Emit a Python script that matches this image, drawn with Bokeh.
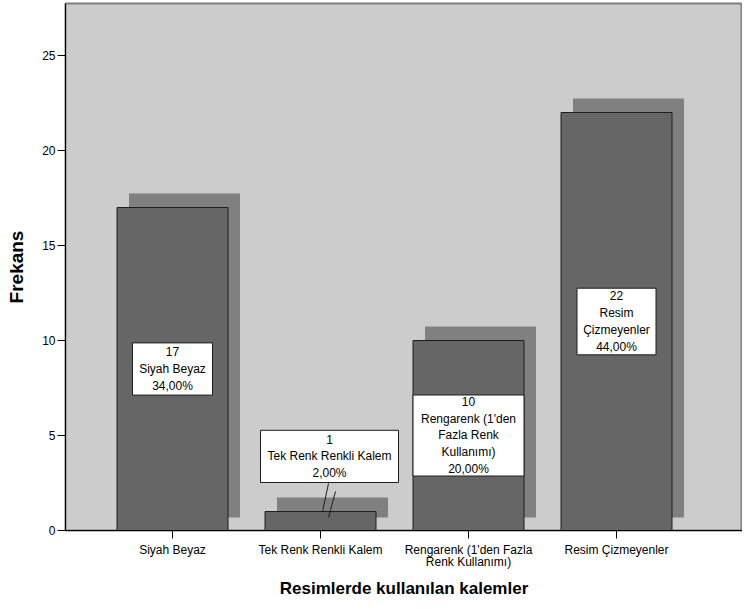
from bokeh.plotting import figure
from bokeh.models import FixedTicker, Range1d
from bokeh.embed import file_html
from bokeh.resources import INLINE
from bokeh.core.properties import value

# ---- data ----
categories = ["Siyah Beyaz", "Tek Renk Renkli Kalem",
              "Rengarenk (1'den Fazla Renk Kullanımı)", "Resim Çizmeyenler"]
tick_labels = ["Siyah Beyaz", "Tek Renk Renkli Kalem",
               "Rengarenk (1'den Fazla\nRenk Kullanımı)", "Resim Çizmeyenler"]
box_names = ["Siyah Beyaz", "Tek Renk Renkli Kalem",
             "Rengarenk (1'den\nFazla Renk\nKullanımı)", "Resim\nÇizmeyenler"]
counts = [17, 1, 10, 22]
percents = ["34,00%", "2,00%", "20,00%", "44,00%"]
y_ticks = [0, 5, 10, 15, 20, 25]

# ---- layout / style ----
W, H = 742, 601
BL, BT, BB = 65, 3, 71
PX_X, PX_Y = 148.0, 19.0          # pixels per data unit
x_start = -0.723
x_end = x_start + (W - BL) / PX_X
y_end = (H - BB - BT) / PX_Y
BAR_W = 0.75
SH_DX, SH_DY = 12 / PX_X, 14 / PX_Y   # drop-shadow offset
box_px_w = [80, 138, 111, 79]
FONT = "Liberation Sans"

p = figure(width=W, height=H, output_backend="svg", toolbar_location=None,
           x_range=Range1d(x_start, x_end), y_range=Range1d(0, y_end),
           min_border_left=BL, min_border_right=0, min_border_top=BT,
           min_border_bottom=BB, background_fill_color="#cccccc",
           border_fill_color="white", outline_line_color="#7f7f7f",
           outline_line_width=2)
p.grid.visible = False

xs = list(range(len(counts)))

# shadows
p.vbar(x=[x + SH_DX for x in xs], bottom=13 / PX_Y,
       top=[c + SH_DY for c in counts], width=BAR_W,
       fill_color="#808080", line_color=None)
# bars
p.vbar(x=xs, bottom=0, top=counts, width=BAR_W,
       fill_color="#666666", line_color="#1e1e1e", line_width=1)

# label boxes
texts, cx, cy, lefts, rights, tops, bottoms = [], [], [], [], [], [], []
seg = dict(x0=[], y0=[], x1=[], y1=[])
for i, (c, nm, pc) in enumerate(zip(counts, box_names, percents)):
    t = f"{c}\n{nm}\n{pc}"
    nlines = t.count("\n") + 1
    h = (nlines * 14.4 + 9) / PX_Y
    w = box_px_w[i] / PX_X
    if c * PX_Y < nlines * 14.4 + 20:
        # box placed above a short bar, with a leader line
        x_c = i + 9 / PX_X
        bot = c + 29 / PX_Y
        y_c = bot + h / 2
        seg["x0"] += [i + 8 / PX_X, i + 15 / PX_X]
        seg["y0"] += [bot - 1 / PX_Y, bot - 9 / PX_Y]
        seg["x1"] += [i + 2 / PX_X, i + 8 / PX_X]
        seg["y1"] += [c, c - 6 / PX_Y]
    else:
        x_c = i
        y_c = c / 2
    texts.append(t)
    cx.append(x_c)
    cy.append(y_c)
    lefts.append(x_c - w / 2)
    rights.append(x_c + w / 2)
    bottoms.append(y_c - h / 2)
    tops.append(y_c + h / 2)

p.quad(left=lefts, right=rights, bottom=bottoms, top=tops,
       fill_color="white", line_color="#1e1e1e", line_width=1)
p.text(x=cx, y=cy, text=texts, text_align="center", text_baseline="middle",
       text_font=value(FONT), text_font_size="12px", text_color="black",
       text_line_height=1.2)
p.segment(x0=seg["x0"], y0=seg["y0"], x1=seg["x1"], y1=seg["y1"],
          line_color="#1e1e1e", line_width=1)

# axes
p.xaxis.ticker = FixedTicker(ticks=xs)
p.xaxis.major_label_overrides = {i: lab for i, lab in enumerate(tick_labels)}
p.yaxis.ticker = FixedTicker(ticks=y_ticks)
for ax in (p.xaxis[0], p.yaxis[0]):
    ax.axis_line_color = "black"
    ax.axis_line_width = 1
    ax.major_tick_line_color = "black"
    ax.major_tick_out = 8
    ax.major_tick_in = 0
    ax.minor_tick_line_color = None
    ax.major_label_text_font = FONT
    ax.major_label_text_font_size = "12px"
    ax.major_label_text_color = "black"
    ax.axis_label_text_font = FONT
    ax.axis_label_text_font_style = "bold"
    ax.axis_label_text_color = "black"
    ax.axis_label_text_line_height = 1.0
p.xaxis.major_label_text_line_height = 0.9
p.xaxis.major_label_standoff = 4
p.yaxis.major_label_standoff = 2
p.xaxis.axis_label = "Resimlerde kullanılan kalemler"
p.yaxis.axis_label = "Frekans"
p.xaxis.axis_label_text_font_size = "17px"
p.yaxis.axis_label_text_font_size = "19px"
p.xaxis.axis_label_standoff = 7
p.yaxis.axis_label_standoff = 12

open("out.html", "w").write(file_html(p, INLINE))
